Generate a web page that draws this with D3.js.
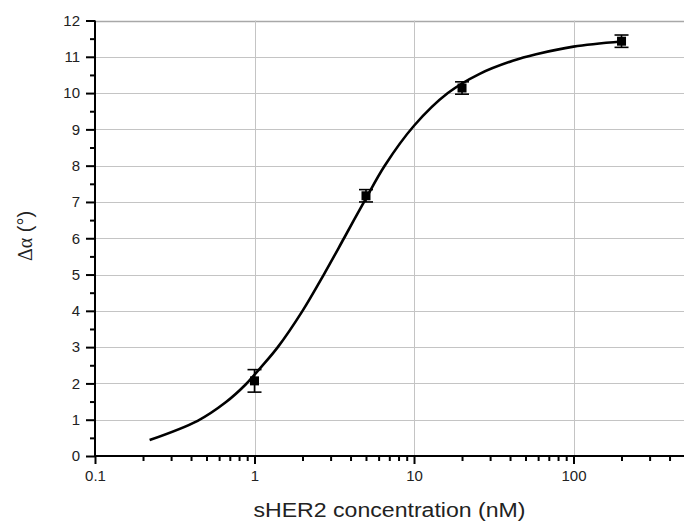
<!doctype html>
<html>
<head>
  <script src="https://cdn.jsdelivr.net/npm/d3@7"></script>
</head>
<body style="margin:0px;background:#fff">
<script>

// measured points (mean and error)
var conc  = [1, 5, 20, 200];
var delta = [2.07, 7.17, 10.14, 11.43];
var err   = [0.31, 0.17, 0.17, 0.17];

// fitted curve
var fitX = [0.22, 0.44, 0.66, 0.88, 1.1, 1.4, 2, 2.72, 3.64, 5, 6.55, 10, 16.3, 25.8, 41.6, 58.3, 100, 200];
var fitY = [0.44, 0.97, 1.48, 1.97, 2.45, 3, 4, 5, 6, 7.1, 8, 9.1, 10, 10.53, 10.89, 11.07, 11.28, 11.42];

var xTicks = [0.1, 1, 10, 100];
var yTicks = [0, 1, 2, 3, 4, 5, 6, 7, 8, 9, 10, 11, 12];

var w = 684, h = 522;
var mLeft = 95, mTop = 20.5, mBottom = 456, mRight = 685;

var svg = d3.select("body").append("svg").attr("width", w).attr("height", h);

var x = d3.scaleLog().domain([0.1, 500]).range([mLeft, mRight]);
var y = d3.scaleLinear().domain([0, 12]).range([mBottom, mTop]);

// grid
svg.append("g").selectAll("line")
   .data(yTicks.slice(1))
   .enter().append("line")
     .attr("x1", mLeft).attr("x2", mRight)
     .attr("y1", function(d){ return Math.round(y(d)) + 0.5; })
     .attr("y2", function(d){ return Math.round(y(d)) + 0.5; })
     .attr("stroke", function(d){ return d == 12 ? "#a8a8a8" : "#c4c4c4"; })
     .attr("stroke-width", function(d){ return d == 12 ? 1.5 : 1; });

svg.append("g").selectAll("line")
   .data([1, 10, 100])
   .enter().append("line")
     .attr("x1", function(d){ return Math.round(x(d)) + 0.5; })
     .attr("x2", function(d){ return Math.round(x(d)) + 0.5; })
     .attr("y1", mTop).attr("y2", mBottom)
     .attr("stroke", "#c4c4c4");

// minor ticks
var xMinor = [];
[0.1, 1, 10, 100].forEach(function(dec){
  for (var k = 2; k <= 9; k++) if (dec * k <= 500) xMinor.push(dec * k);
});
var yMinor = d3.range(0, 12, 1).map(function(d){ return d + 0.5; });

var xAxis = svg.append("g")
   .attr("transform", "translate(0," + mBottom + ")")
   .call(d3.axisBottom(x).tickValues(xTicks).tickSize(8).tickPadding(6)
         .tickFormat(function(d){ return d < 1 ? "0.1" : d3.format("d")(d); }));

svg.append("g")
   .attr("transform", "translate(0," + mBottom + ")")
   .call(d3.axisBottom(x).tickValues(xMinor).tickSize(5).tickFormat(""))
   .call(function(g){ g.select(".domain").remove(); });

var yAxis = svg.append("g")
   .attr("transform", "translate(" + mLeft + ",0)")
   .call(d3.axisLeft(y).tickValues(yTicks).tickSize(9).tickPadding(6));

svg.append("g")
   .attr("transform", "translate(" + mLeft + ",0)")
   .call(d3.axisLeft(y).tickValues(yMinor).tickSize(5).tickFormat(""))
   .call(function(g){ g.select(".domain").remove(); });

svg.selectAll(".tick line").attr("stroke", "#000").attr("stroke-width", 2);
svg.selectAll(".domain").attr("stroke", "#000").attr("stroke-width", 2);
xAxis.select(".domain").attr("d", "M" + mLeft + ",0H" + mRight);
yAxis.select(".domain").attr("d", "M0," + mBottom + "V" + mTop);
svg.selectAll(".tick text")
   .attr("font-family", "Liberation Sans, Arial, sans-serif")
   .attr("font-size", "15px")
   .attr("fill", "#222");

// fit curve
var fit = fitX.map(function(d, i){ return [d, fitY[i]]; });
var line = d3.line()
   .x(function(d){ return x(d[0]); })
   .y(function(d){ return y(d[1]); })
   .curve(d3.curveCatmullRom.alpha(0.5));

svg.append("path")
   .datum(fit)
   .attr("d", line)
   .attr("fill", "none")
   .attr("stroke", "#000")
   .attr("stroke-width", 2.6);

// error bars and markers
var pts = conc.map(function(d, i){ return {x: d, y: delta[i], e: err[i]}; });

var eb = svg.append("g").selectAll("g")
   .data(pts)
   .enter().append("g")
     .attr("stroke", "#000")
     .attr("stroke-width", 1.6);

eb.append("line")
  .attr("x1", function(d){ return x(d.x); }).attr("x2", function(d){ return x(d.x); })
  .attr("y1", function(d){ return y(d.y - d.e); }).attr("y2", function(d){ return y(d.y + d.e); });
eb.append("line")
  .attr("x1", function(d){ return x(d.x) - 7; }).attr("x2", function(d){ return x(d.x) + 7; })
  .attr("y1", function(d){ return y(d.y + d.e); }).attr("y2", function(d){ return y(d.y + d.e); });
eb.append("line")
  .attr("x1", function(d){ return x(d.x) - 7; }).attr("x2", function(d){ return x(d.x) + 7; })
  .attr("y1", function(d){ return y(d.y - d.e); }).attr("y2", function(d){ return y(d.y - d.e); });

svg.append("g").selectAll("rect")
   .data(pts)
   .enter().append("rect")
     .attr("x", function(d){ return x(d.x) - 4.5; })
     .attr("y", function(d){ return y(d.y) - 4.5; })
     .attr("width", 9).attr("height", 9)
     .attr("fill", "#000");

// axis titles
svg.append("text")
   .attr("x", 389.5).attr("y", 517)
   .attr("text-anchor", "middle")
   .attr("font-family", "Liberation Sans, Arial, sans-serif")
   .attr("font-size", "20px")
   .attr("textLength", 272)
   .attr("lengthAdjust", "spacingAndGlyphs")
   .attr("fill", "#222")
   .text("sHER2 concentration (nM)");

var yl = svg.append("text")
   .attr("transform", "translate(32,236) rotate(-90)")
   .attr("text-anchor", "middle")
   .attr("font-size", "20px")
   .attr("fill", "#222");
yl.append("tspan").attr("font-family", "Liberation Serif, Times New Roman, serif").text("Δα");
yl.append("tspan").attr("font-family", "Liberation Sans, Arial, sans-serif").text(" (°)");

</script>
</body>
</html>
